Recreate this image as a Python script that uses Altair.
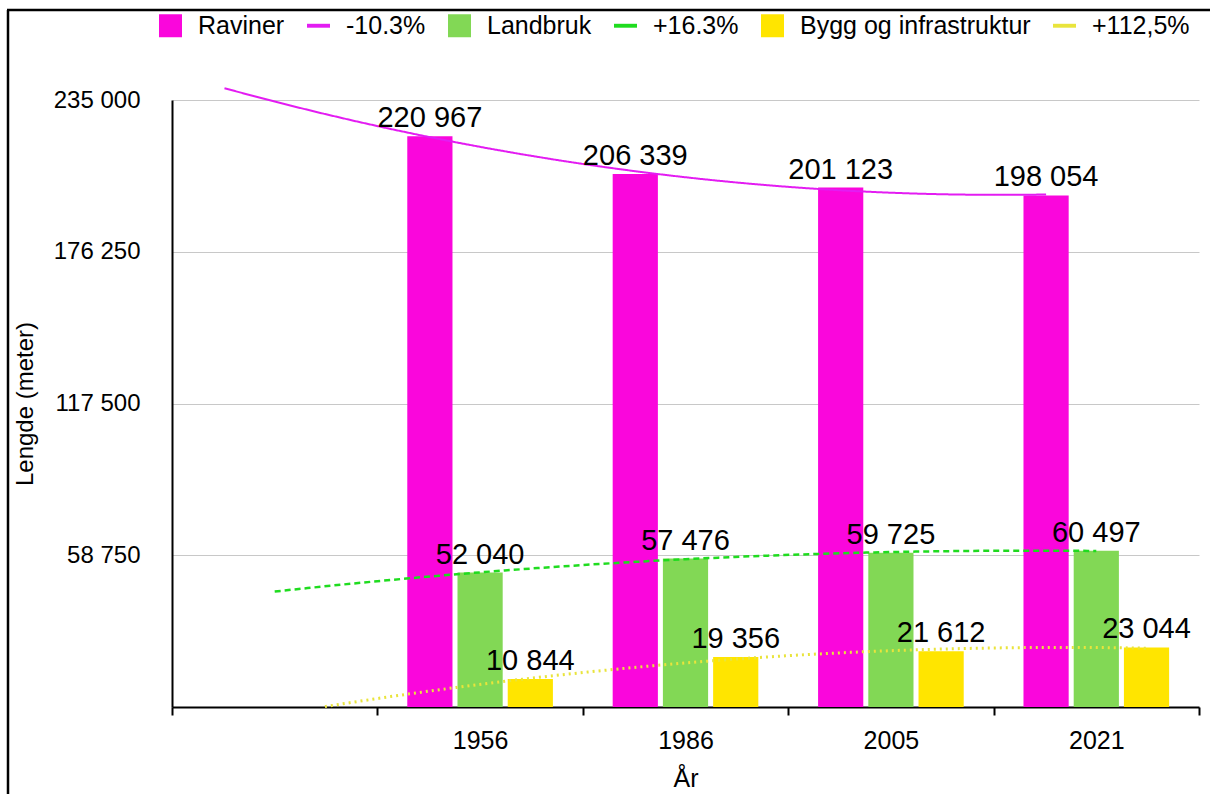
import altair as alt
import pandas as pd

# ---- data ----
years = ["1956", "1986", "2005", "2021"]
x_categories = [""] + years            # first band is left empty in the original
series = ["Raviner", "Landbruk", "Bygg og infrastruktur"]
trend_labels = ["-10.3%", "+16.3%", "+112,5%"]
raviner = [220967, 206339, 201123, 198054]
landbruk = [52040, 57476, 59725, 60497]
bygg = [10844, 19356, 21612, 23044]
y_ticks = [0, 58750, 117500, 176250, 235000]

bar_colors = ["#fa06dc", "#82d855", "#ffe500"]
trend_colors = ["#e31cf2", "#1fdc1f", "#e9e43c"]

# ---- styling / layout constants ----
FONT = "Liberation Sans"
W, H = 1027, 607
SUB_PAD_INNER, SUB_PAD_OUTER = 0.1, 0.595
sub_step = 1.0 / (len(series) - SUB_PAD_INNER + 2 * SUB_PAD_OUTER)

legend_keys = []
legend_colors = []
for s, t, bc, tc in zip(series, trend_labels, bar_colors, trend_colors):
    legend_keys += [s, t]
    legend_colors += [bc, tc]
SQUARE = "M-1,-1H1V1H-1Z"
DASH = "M-1,-0.17H1V0.17H-1Z"
legend_shapes = [SQUARE, DASH] * len(series)

rows = []
for si, (s, t, vals) in enumerate(zip(series, trend_labels, [raviner, landbruk, bygg])):
    for y, v in zip(years, vals):
        rows.append({"year": y, "t": x_categories.index(y), "series": s,
                     "sidx": si, "trend": t, "value": v})
df = pd.DataFrame(rows)

# colour scale for the marks (legend drawn separately from a fill/shape pair)
color_scale = alt.Scale(domain=series + trend_labels, range=bar_colors + trend_colors)
y_scale = alt.Scale(domain=[0, y_ticks[-1]], nice=False, zero=True)
x_scale = alt.Scale(domain=x_categories, paddingInner=0, paddingOuter=0)

base = alt.Chart(df).transform_calculate(key="datum.series")

x_enc = alt.X(
    "year:N",
    scale=x_scale,
    axis=alt.Axis(
        title="År", tickBand="extent", tickSize=8, tickWidth=2, tickColor="black",
        domainColor="black", domainWidth=2, labelAngle=0, labelFont=FONT,
        labelFontSize=25, labelColor="black", labelPadding=13, titleFont=FONT,
        titleFontSize=25, titleFontWeight="normal", titleColor="black",
        titlePadding=13, grid=False,
    ),
)
xoff_enc = alt.XOffset("series:N", scale=alt.Scale(domain=series, paddingInner=SUB_PAD_INNER,
                                                   paddingOuter=SUB_PAD_OUTER))
y_enc = alt.Y(
    "value:Q", scale=y_scale,
    axis=alt.Axis(
        values=y_ticks, ticks=False, labelPadding=32,
        labelExpr="datum.value == 0 ? '' : replace(format(datum.value, ','), ',', ' ')",
        domainColor="black", domainWidth=2, gridColor="#c8c8c8", gridWidth=1,
        labelFont=FONT, labelFontSize=24, labelColor="black",
        title="Lengde (meter)", titleFont=FONT, titleFontSize=24,
        titleFontWeight="normal", titleColor="black", titleX=-147, titleY=H / 2,
        titleBaseline="middle",
    ),
)

bars = base.mark_bar().encode(
    x=x_enc, xOffset=xoff_enc, y=y_enc,
    color=alt.Color("key:N", scale=color_scale, legend=None),
)

labels = base.transform_calculate(
    label="replace(format(datum.value, ','), ',', ' ')"
).mark_text(font=FONT, fontSize=29, color="black", dy=-9, baseline="alphabetic").encode(
    x=alt.X("year:N", scale=x_scale, axis=None),
    xOffset=xoff_enc,
    y=alt.Y("value:Q", scale=y_scale),
    text="label:N",
)

trends = alt.Chart(df).transform_regression(
    "t", "value", method="poly", order=2, extent=[0, len(years)],
    groupby=["trend", "sidx"],
).transform_calculate(
    xpos=f"datum.t + (datum.sidx - 1) * {sub_step}",
    key="datum.trend",
).mark_line(clip=False).encode(
    x=alt.X("xpos:Q", scale=alt.Scale(domain=[-0.5, len(x_categories) - 0.5], nice=False, zero=False),
            axis=None),
    y=alt.Y("value:Q", scale=y_scale),
    color=alt.Color("key:N", scale=color_scale, legend=None),
    strokeDash=alt.StrokeDash("key:N", scale=alt.Scale(domain=trend_labels,
                                                       range=[[1, 0], [6, 4], [2, 4]]), legend=None),
    strokeWidth=alt.StrokeWidth("key:N", scale=alt.Scale(domain=trend_labels, range=[2, 3, 3]),
                                legend=None),
)

leg = dict(
    orient="none", legendX=-14, legendY=-87, direction="horizontal", title=None,
    symbolSize=529, labelFont=FONT, labelFontSize=25, labelColor="black",
    labelLimit=400, columnPadding=21, labelOffset=15, padding=0,
    symbolStrokeWidth=0, symbolOpacity=1,
)
legend_layer = alt.Chart(pd.DataFrame({"key": legend_keys})).transform_filter("false").mark_point(
    filled=True, opacity=1
).encode(
    fill=alt.Fill("key:N", scale=alt.Scale(domain=legend_keys, range=legend_colors),
                  legend=alt.Legend(**leg)),
    shape=alt.Shape("key:N", scale=alt.Scale(domain=legend_keys, range=legend_shapes),
                    legend=alt.Legend(**leg)),
)

frame_src = pd.DataFrame({"k": [0]})
frame_left = alt.Chart(frame_src).mark_rule(color="black", strokeWidth=2.5).encode(
    x=alt.value(-164), y=alt.value(-90), y2=alt.value(H + 90)
)
frame_top = alt.Chart(frame_src).mark_rule(color="black", strokeWidth=2.5).encode(
    x=alt.value(-165), x2=alt.value(W + 20), y=alt.value(-90)
)

chart = alt.layer(bars, trends, labels, legend_layer, frame_left, frame_top).resolve_scale(
    x="independent"
).properties(
    width=W, height=H,
    autosize=alt.AutoSizeParams(type="none"),
    padding={"left": 172, "top": 100, "right": 11, "bottom": 87},
    background="white",
).configure_view(stroke=None)

chart.save("out.html", embed_options={"renderer": "svg", "actions": False})
